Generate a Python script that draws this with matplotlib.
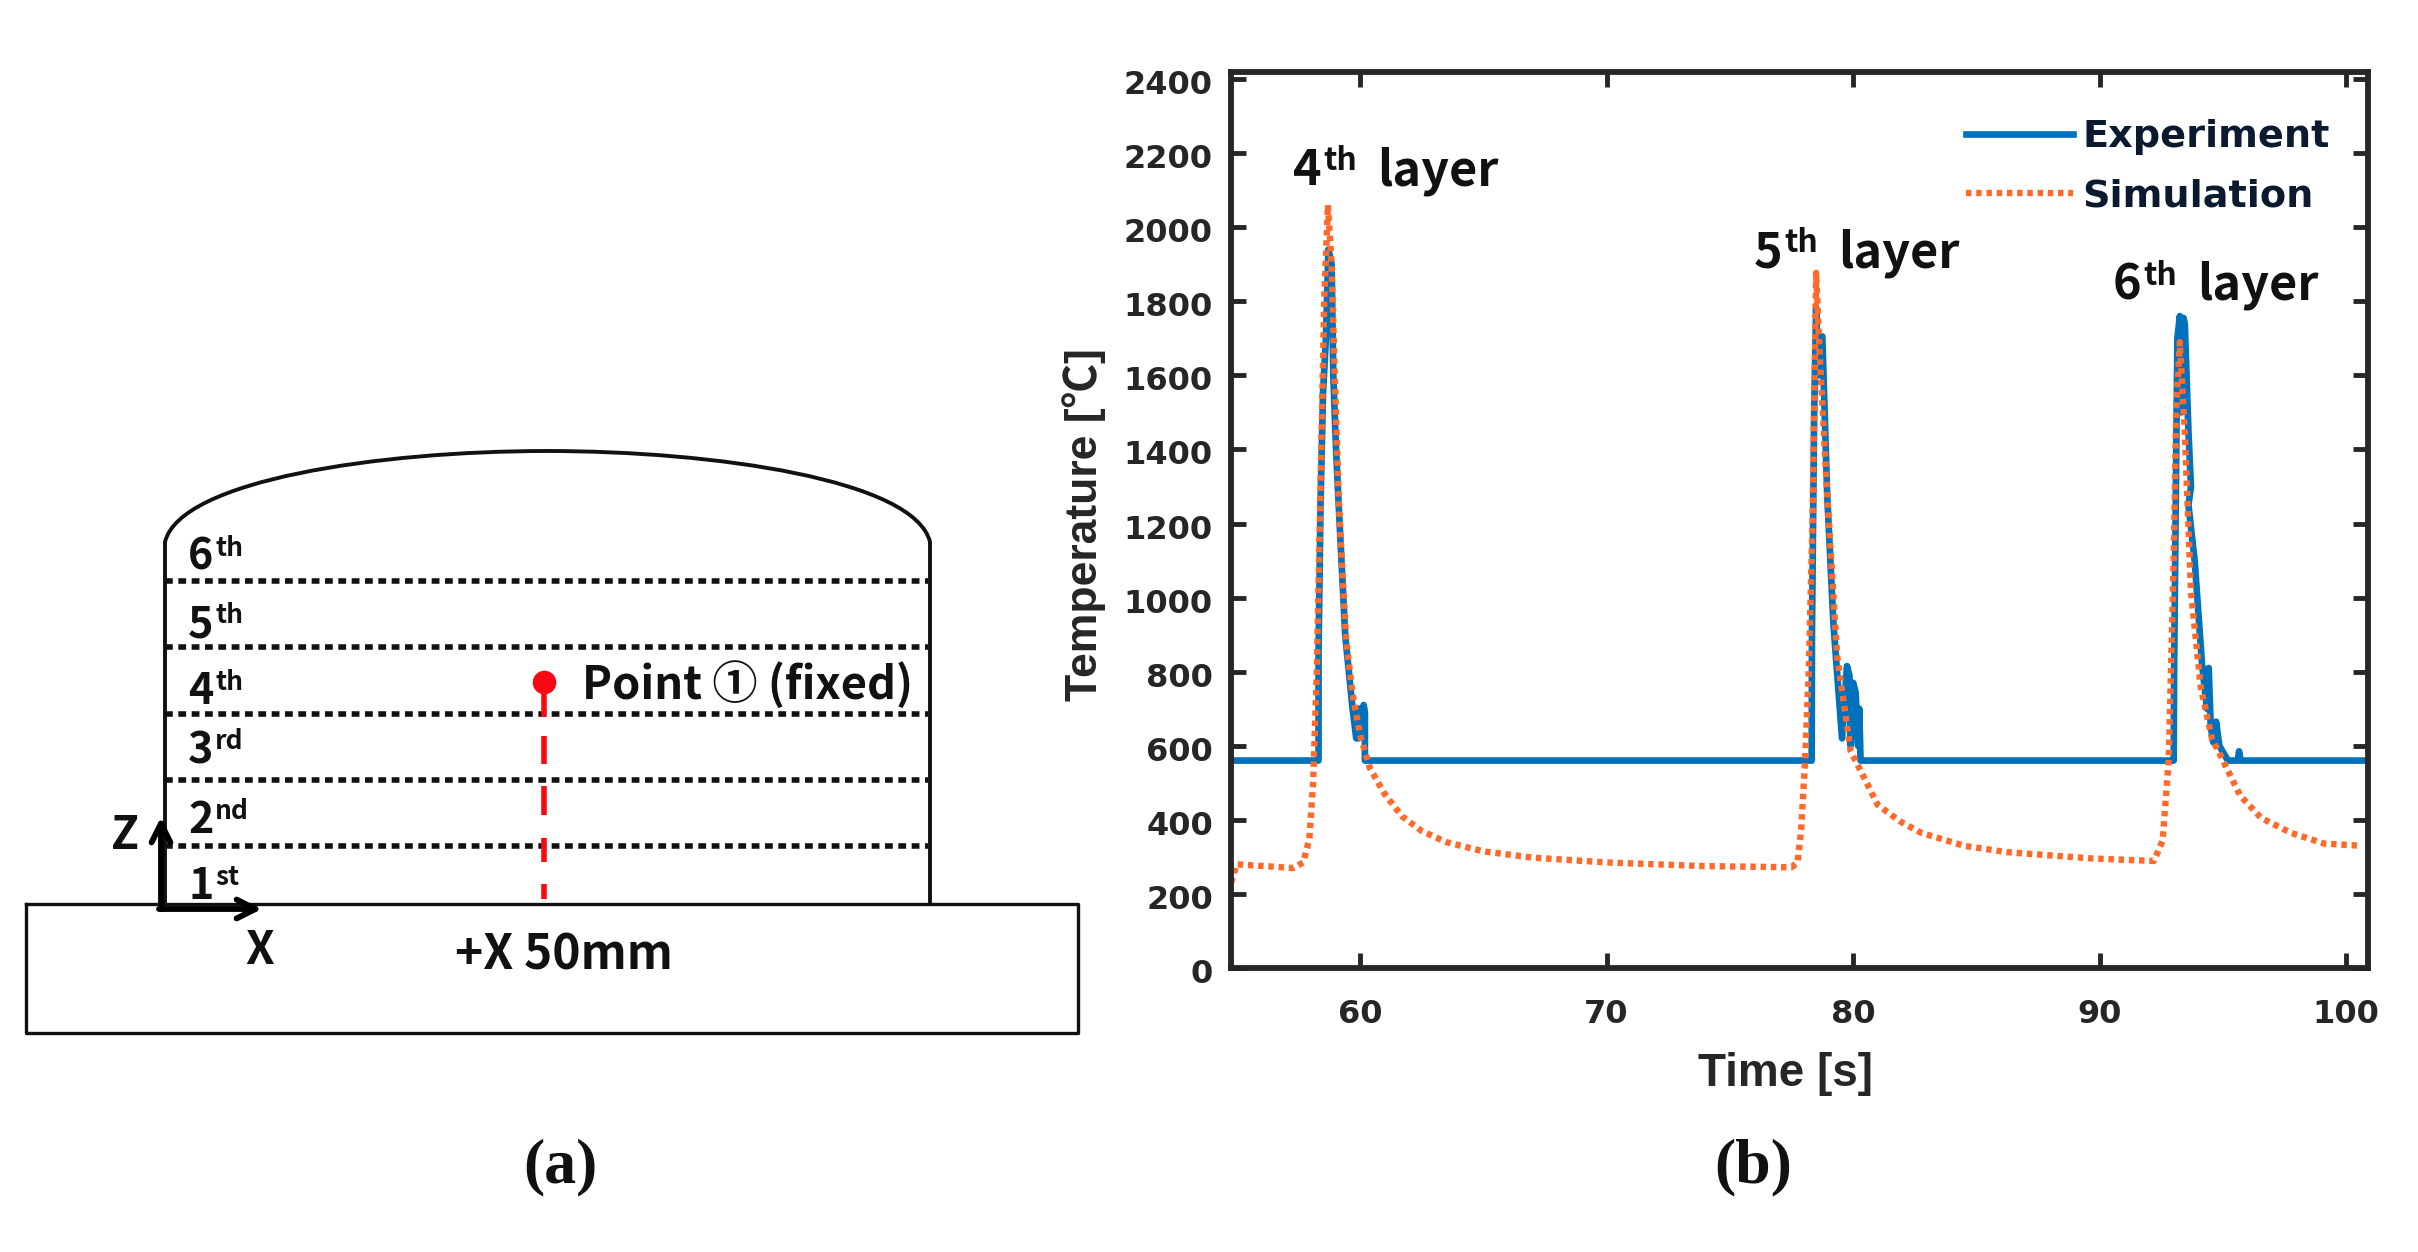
import matplotlib
matplotlib.use("Agg")
import matplotlib.pyplot as plt
from matplotlib.path import Path
from matplotlib.patches import PathPatch
from matplotlib.transforms import ScaledTranslation

W, H = 2418, 1252
KR = ['Noto Sans CJK KR', 'DejaVu Sans']

# ---------- panel (b) data ----------
exp_t = [54.77, 58.32, 58.32, 58.4, 58.5, 58.62, 58.72, 58.85, 58.92, 59.0, 59.1, 59.25, 59.4, 59.55, 59.7,
         59.85, 59.9, 59.95, 60.0, 60.05, 60.15, 60.2, 60.2,
         78.32, 78.33, 78.42, 78.5, 78.6, 78.55, 78.75, 78.95, 79.2, 79.55, 79.75, 79.85, 79.9, 80.0, 80.1, 80.2, 80.25, 80.3,
         93.0, 93.02, 93.15, 93.25, 93.32, 93.4, 93.45, 93.6, 93.7, 93.6, 93.85, 94.15, 94.35, 94.42, 94.5, 94.6, 94.72, 94.85, 95.2, 95.6, 95.65, 95.72,
         100.88]
exp_T = [560, 560, 850, 1250, 1550, 1700, 1940, 1900, 1600, 1450, 1300, 1100, 900, 800, 700,
         620, 700, 620, 700, 640, 710, 690, 560,
         560, 900, 1500, 1782, 1600, 1700, 1705, 1275, 930, 620, 815, 790, 600, 770, 745, 600, 700, 560,
         560, 826, 1700, 1760, 1500, 1755, 1739, 1446, 1300, 1250, 1100, 820, 700, 810, 655, 610, 665, 600, 560, 560, 585, 560,
         560]

sim_t = [54.77, 55.0, 57.3, 57.7, 57.95, 58.1, 58.25, 58.4, 58.55, 58.7, 58.85, 59.0, 59.15, 59.3, 59.45, 59.7,
         60.0, 60.4, 61.0, 61.7, 62.5, 63.5, 65.0, 67.0, 70.0, 74.0,
         77.5, 77.75, 77.9, 78.05, 78.2, 78.35, 78.5, 78.65, 78.95, 79.35, 79.9, 80.3, 81.0, 81.9, 82.75, 84.5, 86.2, 89.6,
         92.2, 92.55, 92.8, 93.0, 93.1, 93.25, 93.45, 93.7, 94.1, 94.55, 95.0, 95.7, 96.55, 97.75, 99.1, 100.6]
sim_T = [230, 280, 270, 285, 350, 500, 800, 1300, 1800, 2060, 1900, 1550, 1250, 1050, 880, 740,
         630, 540, 470, 410, 370, 340, 315, 298, 285, 275,
         272, 285, 380, 560, 800, 1200, 1877, 1650, 1275, 843, 585, 533, 440, 396, 365, 330, 313, 296,
         289, 344, 563, 1100, 1500, 1690, 1446, 1016, 757, 620, 560, 465, 405, 365, 336, 330]

x_ticks = [60, 70, 80, 90, 100]
y_ticks = list(range(0, 2401, 200))
series_names = ['Experiment', 'Simulation']
xlabel_text = 'Time [s]'
ylabel_text = 'Temperature [℃]'

# ---------- panel (a) drawing, pixel units of the image ----------
base_x = [26, 1078, 1078, 26, 26]
base_y = [904, 904, 1033, 1033, 904]
dome_pts = [(165, 904), (165, 542), (180, 480), (380, 451), (547, 451), (715, 451), (915, 480), (930, 542), (930, 904)]
dome_codes = [Path.MOVETO, Path.LINETO, Path.CURVE4, Path.CURVE4, Path.CURVE4, Path.CURVE4, Path.CURVE4, Path.CURVE4, Path.LINETO]
layer_y = [581, 646.5, 714, 780, 845.6]
layer_x = [165, 928]
layers = [('6', 'th', 188, 570), ('5', 'th', 188, 637), ('4', 'th', 188, 704),
          ('3', 'rd', 188, 763), ('2', 'nd', 188, 833), ('1', 'st', 188, 899)]
peak_labels = [('4', 1293, 185), ('5', 1754, 267), ('6', 2113, 300)]

fig = plt.figure(figsize=(W / 100, H / 100), dpi=100, facecolor='white')

# ---------- panel (b) ----------
L, R, T_, B = 1231, 2368, 72, 968
ax = fig.add_axes([L / W, 1 - B / H, (R - L) / W, (B - T_) / H])
ax.plot(exp_t, exp_T, color='#0072BD', lw=4.8, solid_joinstyle='round', label=series_names[0])
ax.plot(sim_t, sim_T, color='#FF6A2A', lw=4.6, dash_capstyle='butt', linestyle=(0, (0.85, 0.75)), label=series_names[1])
ax.set_xlim(54.77, 100.88)
ax.set_ylim(0, 2419)
ax.set_xticks(x_ticks)
ax.set_yticks(y_ticks)
ax.tick_params(direction='in', top=True, right=True, length=11, width=3.5, color='#262626')
ax.tick_params(axis='y', pad=13)
ax.tick_params(axis='x', pad=22)
for s in ax.spines.values():
    s.set_linewidth(4.2)
    s.set_color('#262626')
for lab in ax.get_xticklabels() + ax.get_yticklabels():
    lab.set_fontfamily('DejaVu Sans')
    lab.set_fontweight('bold')
    lab.set_fontsize(23)
    lab.set_color('#262626')
for lab in ax.get_yticklabels():
    lab.set_transform(lab.get_transform() + ScaledTranslation(0, -3 / 100, fig.dpi_scale_trans))
leg = ax.legend(loc='upper left', bbox_to_anchor=((1966 - L) / (R - L), 1 - (119 - T_) / (B - T_)),
                frameon=False, handlelength=2.8, handletextpad=0.24, labelspacing=0.62, borderpad=0, borderaxespad=0,
                prop={'family': 'DejaVu Sans', 'weight': 'bold', 'size': 27.5})
for t in leg.get_texts():
    t.set_color('#0B1A2E')

# ---------- overlay in image pixels ----------
ov = fig.add_axes([0, 0, 1, 1], facecolor='none')
ov.set_xlim(0, W)
ov.set_ylim(H, 0)
ov.axis('off')

ov.plot(base_x, base_y, color='#111111', lw=2.4)
ov.add_patch(PathPatch(Path(dome_pts, dome_codes), fill=False, edgecolor='#111111', lw=2.8))
for y in layer_y:
    ov.plot(layer_x, [y, y], color='#111111', lw=4.0, dash_capstyle='butt', linestyle=(0, (1.4, 1.0)))

red = '#F50A14'
ov.plot([544, 544], [682, 714], color=red, lw=4)
for y0, y1 in [(736, 764), (786, 815), (838, 862), (884, 899)]:
    ov.plot([544, 544], [y0, y1], color=red, lw=4, solid_capstyle='butt')
ov.plot([544], [682], 'o', color=red, ms=17, mec='none')

ov.annotate('', xy=(161, 817), xytext=(161, 909), arrowprops=dict(arrowstyle='->', lw=4.2, color='black', mutation_scale=34, shrinkA=0, shrinkB=0))
ov.annotate('', xy=(262, 909), xytext=(159, 909), arrowprops=dict(arrowstyle='->', lw=4.2, color='black', mutation_scale=34, shrinkA=0, shrinkB=0))

for d, sup, x, y in layers:
    ov.text(x, y, d, family=KR, fontsize=31, fontweight='bold', color='#111111', va='baseline')
    ov.text(x + 27, y - 14, sup, family=KR, fontsize=19, fontweight='bold', color='#111111', va='baseline')

ov.text(582, 700, 'Point ① (fixed)', family=KR, fontsize=32.5, fontweight='bold', color='#111111', va='baseline')
ov.text(111, 849, 'Z', family=KR, fontsize=33, fontweight='bold', color='#111111', va='baseline')
ov.text(245, 964, 'X', family=KR, fontsize=33, fontweight='bold', color='#111111', va='baseline')
ov.text(455, 970, '+X 50mm', family=KR, fontsize=34.5, fontweight='bold', color='#111111', va='baseline')

for d, x, y in peak_labels:
    ov.text(x, y, d, family=KR, fontsize=35, fontweight='bold', color='#111111', va='baseline')
    ov.text(x + 30, y - 15, 'th', family=KR, fontsize=23, fontweight='bold', color='#111111', va='baseline')
    ov.text(x + 84, y, 'layer', family=KR, fontsize=35, fontweight='bold', color='#111111', va='baseline')

ov.text(1084, 525, ylabel_text, family=['Liberation Sans', 'Noto Sans CJK KR'], fontsize=32, fontweight='bold',
        color='#262626', rotation=90, ha='center', va='center')
ov.text(1786, 1074, xlabel_text, family='Liberation Sans', fontsize=33, fontweight='bold',
        color='#262626', ha='center', va='center')
ov.text(560, 1167, '(a)', family='Liberation Serif', fontsize=46, fontweight='bold', color='#111111', ha='center', va='center')
ov.text(1753, 1167, '(b)', family='Liberation Serif', fontsize=46, fontweight='bold', color='#111111', ha='center', va='center')

fig.savefig('out.png', dpi=100, facecolor='white')
